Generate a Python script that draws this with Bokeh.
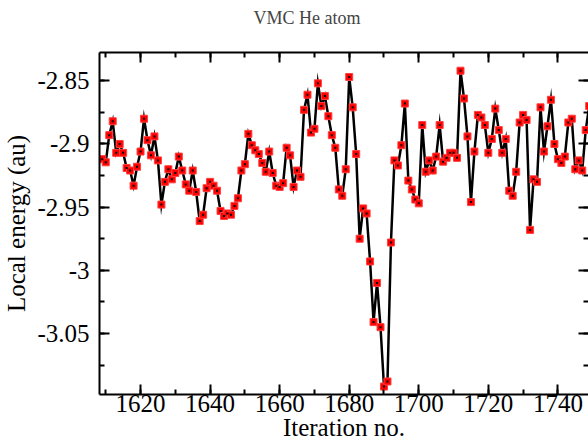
from bokeh.plotting import figure
from bokeh.models import Range1d, LinearAxis, SingleIntervalTicker, CustomJSTickFormatter, ColumnDataSource
from bokeh.embed import file_html
from bokeh.resources import INLINE

iteration = list(range(1609, 1750))
energy = [
    -2.912, -2.9145, -2.893, -2.882, -2.907, -2.900, -2.907, -2.919, -2.921, -2.933,
    -2.918, -2.906, -2.880, -2.897, -2.909, -2.894, -2.913, -2.948, -2.930, -2.920,
    -2.928, -2.923, -2.910, -2.921, -2.932, -2.937, -2.921, -2.938, -2.961, -2.956,
    -2.935, -2.930, -2.933, -2.937, -2.953, -2.957, -2.955, -2.956, -2.949, -2.943,
    -2.921, -2.916, -2.892, -2.901, -2.905, -2.908, -2.915, -2.922, -2.906, -2.923,
    -2.933, -2.934, -2.931, -2.903, -2.909, -2.934, -2.921, -2.926, -2.873, -2.861,
    -2.891, -2.888, -2.852, -2.870, -2.862, -2.878, -2.893, -2.903, -2.936, -2.941,
    -2.920, -2.847, -2.871, -2.908, -2.975, -2.951, -2.955, -2.993, -3.041, -3.010,
    -3.045, -3.092, -3.088, -2.978, -2.913, -2.917, -2.901, -2.868, -2.929, -2.936,
    -2.944, -2.947, -2.885, -2.922, -2.913, -2.921, -2.910, -2.885, -2.914, -2.911,
    -2.907, -2.907, -2.911, -2.842, -2.864, -2.894, -2.946, -2.906, -2.877, -2.879,
    -2.885, -2.907, -2.896, -2.872, -2.889, -2.907, -2.896, -2.937, -2.941, -2.922,
    -2.883, -2.877, -2.881, -2.968, -2.928, -2.930, -2.871, -2.906, -2.886, -2.865,
    -2.900, -2.912, -2.915, -2.910, -2.883, -2.880, -2.920, -2.913, -2.921, -2.889,
    -2.870,
]

title_text = "VMC He atom"
x_label = "Iteration no."
y_label = "Local energy (au)"

source = ColumnDataSource(data=dict(x=iteration, y=energy))

SERIF = "Liberation Serif"

p = figure(width=588, height=443, output_backend="svg", toolbar_location=None,
           x_range=Range1d(1608.2, 1748.8), y_range=Range1d(-3.0983, -2.8276),
           x_axis_location=None, y_axis_location=None,
           min_border_left=98, min_border_top=51, min_border_bottom=48,
           min_border_right=0)

p.grid.visible = False
p.outline_line_color = None
p.background_fill_color = "white"
p.border_fill_color = "white"

fmt = CustomJSTickFormatter(code="return String(parseFloat(tick.toFixed(4)));")
blank = CustomJSTickFormatter(code="return '';")

def style_axis(ax, labels=True):
    ax.major_tick_in = 10
    ax.major_tick_out = 0
    ax.minor_tick_in = 5
    ax.minor_tick_out = 0
    ax.major_tick_line_width = 2
    ax.minor_tick_line_width = 2
    ax.major_tick_line_color = "black"
    ax.minor_tick_line_color = "black"
    ax.axis_line_width = 2
    ax.axis_line_color = "black"
    if labels:
        ax.major_label_text_font = SERIF
        ax.major_label_text_font_size = "25px"
        ax.major_label_text_color = "black"
        ax.axis_label_text_font = SERIF
        ax.axis_label_text_font_size = "25px"
        ax.axis_label_text_font_style = "normal"
        ax.axis_label_text_color = "black"
    else:
        ax.major_label_text_font_size = "1px"
        ax.major_label_text_color = None
        ax.major_label_standoff = 0

xt = SingleIntervalTicker(interval=20, num_minor_ticks=2)
yt = SingleIntervalTicker(interval=0.05, num_minor_ticks=2)

xb = LinearAxis(ticker=xt, formatter=fmt, axis_label=x_label)
style_axis(xb)
xb.major_label_standoff = 0
xb.axis_label_standoff = -1
p.add_layout(xb, "below")

yl = LinearAxis(ticker=yt, formatter=fmt, axis_label=y_label)
style_axis(yl)
yl.major_label_standoff = 10
yl.axis_label_standoff = 4
p.add_layout(yl, "left")

xa = LinearAxis(ticker=SingleIntervalTicker(interval=20, num_minor_ticks=2), formatter=blank)
style_axis(xa, labels=False)
p.add_layout(xa, "above")

yr = LinearAxis(ticker=SingleIntervalTicker(interval=0.05, num_minor_ticks=2), formatter=blank)
style_axis(yr, labels=False)
yr.axis_line_color = None
p.add_layout(yr, "right")

p.title.text = title_text
p.title.text_font = SERIF
p.title.text_font_size = "18px"
p.title.text_font_style = "normal"
p.title.align = "left"
p.title.offset = 154
p.title.padding = dict(left=0, right=0, top=0, bottom=20)

p.line("x", "y", source=source, line_color="black", line_width=2.5, line_join="miter")
p.scatter("x", "y", source=source, marker="square", size=7, fill_color="red",
          line_color="#ff4040", line_width=1)
p.scatter("x", "y", source=source, marker="square", size=2, fill_color="black",
          line_color=None)

open("out.html", "w").write(file_html(p, INLINE))
